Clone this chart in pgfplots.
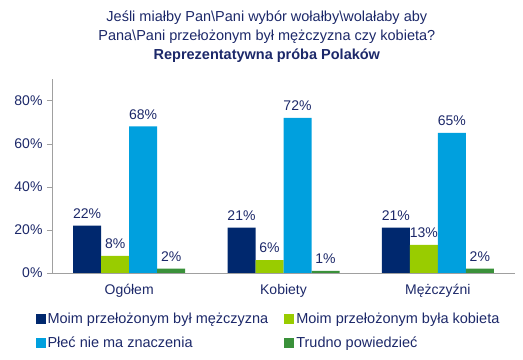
\documentclass[border=0pt]{standalone}
\usepackage{fontspec}
\setmainfont{Liberation Sans}
\usepackage{pgfplots}
\pgfplotsset{compat=1.18}
\definecolor{navy}{RGB}{0,40,110}
\definecolor{txt}{RGB}{28,40,105}
\definecolor{lgreen}{RGB}{153,204,0}
\definecolor{lblue}{RGB}{0,160,222}
\definecolor{dgreen}{RGB}{58,145,58}
\definecolor{axgray}{RGB}{160,160,160}
\begin{document}
\begin{tikzpicture}
\begin{axis}[
  scale only axis,
  width=463pt, height=194pt,
  ybar=0pt, bar width=28pt,
  xmin=-0.5, xmax=2.5,
  ymin=0, ymax=90,
  axis x line*=bottom, axis y line*=left,
  axis line style={axgray},
  xtick={0,1,2},
  xticklabels={Ogółem,Kobiety,Mężczyźni},
  major x tick style={draw=none},
  extra x ticks={-0.5,0.5,1.5,2.5},
  extra x tick labels={},
  extra x tick style={major tick length=5pt, tick style={axgray}},
  ytick={0,20,40,60,80},
  yticklabel={\pgfmathprintnumber{\tick}\%},
  /pgf/number format/assume math mode=true,
  ytick style={axgray},
  tick align=outside,
  major tick length=5pt,
  ticklabel style={font=\fontsize{14}{16}\selectfont, text=txt},
  yticklabel style={xshift=-1pt},
  xticklabel style={yshift=-3pt},
  nodes near coords={\pgfmathprintnumber{\pgfplotspointmeta}\%},
  every node near coord/.append style={font=\fontsize{14}{16}\selectfont, text=txt, inner sep=2pt, yshift=5pt, /pgf/number format/assume math mode=true},
  legend columns=2,
  legend cell align=left,
  legend image code/.code={\path[#1,draw=none] (0pt,-5pt) rectangle (10pt,5pt);},
  legend style={draw=none, fill=none, font=\fontsize{14.5}{16}\selectfont, text=txt,
    at={(rel axis cs:-0.036,-0.195)}, anchor=north west,
    /tikz/every even column/.append style={column sep=14pt},
    row sep=8pt, inner sep=0pt},
  clip=false,
]
\addplot[fill=navy, draw=none] coordinates {(0,22) (1,21) (2,21)};
\addplot[fill=lgreen, draw=none] coordinates {(0,8) (1,6) (2,13)};
\addplot[fill=lblue, draw=none] coordinates {(0,68) (1,72) (2,65)};
\addplot[fill=dgreen, draw=none] coordinates {(0,2) (1,1) (2,2)};
\legend{Moim przełożonym był mężczyzna, Moim przełożonym była kobieta, Płeć nie ma znaczenia, Trudno powiedzieć}
\coordinate (bl) at (rel axis cs:0,0);
\coordinate (tr) at (rel axis cs:1,1);
\node[anchor=south, align=center, text=txt, font=\fontsize{14.5}{19}\selectfont] at ([yshift=13pt]rel axis cs:0.464,1)
  {Jeśli miałby Pan\textbackslash Pani wybór wołałby\textbackslash wolałaby aby\\Pana\textbackslash Pani przełożonym był mężczyzna czy kobieta?\\\textbf{Reprezentatywna próba Polaków}};
\end{axis}
\pgfresetboundingbox
\path ([xshift=-52pt,yshift=-87pt]bl) rectangle ([xshift=8pt,yshift=79pt]tr);
\end{tikzpicture}
\end{document}
